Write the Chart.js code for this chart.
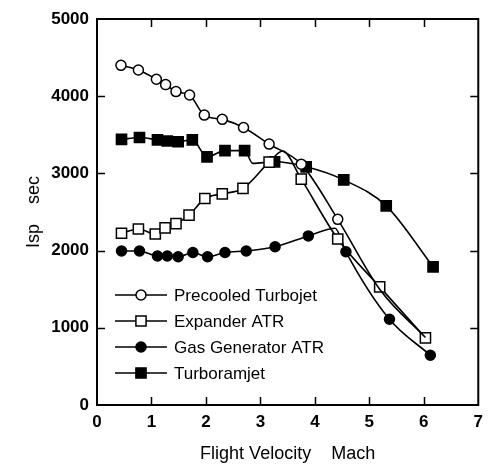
<!DOCTYPE html>
<html>
<head>
<meta charset="utf-8">
<script src="https://cdn.jsdelivr.net/npm/chart.js@4.4.1/dist/chart.umd.min.js"></script>
<style>
  html, body { margin: 0; padding: 0; background: #fff; }
</style>
</head>
<body>
<canvas id="Chart1" width="490" height="465"></canvas>
<script>
const FONT = '"Liberation Sans", Arial, Helvetica, sans-serif';

const seriesLabels = ['Precooled Turbojet', 'Expander ATR', 'Gas Generator ATR', 'Turboramjet'];

const precooledMach = [0.44, 0.76, 1.09, 1.26, 1.45, 1.70, 1.97, 2.30, 2.69, 3.16, 3.75, 4.42, 5.20, 6.03];
const precooledIsp = [4400, 4340, 4220, 4150, 4060, 4015, 3755, 3700, 3595, 3380, 3120, 2405, 1490, 875];

const expanderMach = [0.45, 0.76, 1.07, 1.25, 1.45, 1.69, 1.98, 2.30, 2.68, 3.16, 3.41, 3.75, 4.42, 5.19, 6.03];
const expanderIsp = [2225, 2280, 2215, 2295, 2350, 2460, 2675, 2735, 2805, 3145, 3290, 2925, 2150, 1530, 870];

const gasGenMach = [0.45, 0.78, 1.11, 1.29, 1.49, 1.76, 2.03, 2.35, 2.74, 3.27, 3.88, 4.37, 4.57, 5.37, 6.12];
const gasGenIsp = [1995, 1995, 1930, 1930, 1920, 1975, 1920, 1975, 1995, 2050, 2190, 2290, 1985, 1110, 645];

const turboMach = [0.45, 0.78, 1.11, 1.29, 1.49, 1.75, 2.02, 2.35, 2.71, 2.86, 3.26, 3.84, 4.53, 5.31, 6.17];
const turboIsp = [3440, 3465, 3435, 3420, 3410, 3435, 3215, 3295, 3295, 3130, 3150, 3085, 2915, 2580, 1790];

const xTicks = [0, 1, 2, 3, 4, 5, 6, 7];
const yTicks = [0, 1000, 2000, 3000, 4000, 5000];

const machs = [precooledMach, expanderMach, gasGenMach, turboMach];
const isps = [precooledIsp, expanderIsp, gasGenIsp, turboIsp];

// marker look per series; "bare" = points the original draws without a marker
const looks = [
    { style: 'circle', fill: '#fff', r: 5, bare: [12, 13] },
    { style: 'rect', fill: '#fff', r: 7.2, bare: [10] },
    { style: 'circle', fill: '#000', r: 5, bare: [11] },
    { style: 'rect', fill: '#000', r: 7.2, bare: [9] }
];

function mark(ctx, style, x, y, r, fill) {
    ctx.beginPath();
    if (style === 'rect') {
        const h = r * Math.SQRT1_2;
        ctx.rect(x - h, y - h, 2 * h, 2 * h);
    } else {
        ctx.arc(x, y, r, 0, Math.PI * 2);
    }
    ctx.fillStyle = fill;
    ctx.fill();
    ctx.stroke();
}

// box round the plot with inward ticks on all four sides
const frame = {
    id: 'frame',
    afterDraw(chart) {
        const { ctx, chartArea: a, scales: { x, y } } = chart;
        ctx.save();
        ctx.strokeStyle = '#000';
        ctx.lineWidth = 2;
        ctx.strokeRect(a.left, a.top, a.right - a.left, a.bottom - a.top);
        ctx.lineWidth = 1.5;
        ctx.beginPath();
        x.ticks.forEach(t => {
            const px = Math.round(x.getPixelForValue(t.value)) + 0.5;
            if (px <= a.left + 2 || px >= a.right - 2) return;
            ctx.moveTo(px, a.bottom); ctx.lineTo(px, a.bottom - 8);
            ctx.moveTo(px, a.top); ctx.lineTo(px, a.top + 8);
        });
        y.ticks.forEach(t => {
            const py = Math.round(y.getPixelForValue(t.value)) + 0.5;
            if (py <= a.top + 2 || py >= a.bottom - 2) return;
            ctx.moveTo(a.left, py); ctx.lineTo(a.left + 8, py);
            ctx.moveTo(a.right, py); ctx.lineTo(a.right - 8, py);
        });
        ctx.stroke();
        ctx.restore();
    }
};

// legend drawn inside the plot, lower left
const insideLegend = {
    id: 'insideLegend',
    afterDraw(chart) {
        const { ctx, chartArea: a } = chart;
        ctx.save();
        chart.data.datasets.forEach((ds, i) => {
            const y = a.top + 276 + i * 26;
            const x0 = a.left + 18, x1 = a.left + 70;
            ctx.strokeStyle = '#000';
            ctx.lineWidth = 1.5;
            ctx.beginPath();
            ctx.moveTo(x0, y); ctx.lineTo(x1, y);
            ctx.stroke();
            mark(ctx, looks[i].style, (x0 + x1) / 2, y, looks[i].r, looks[i].fill);
            ctx.fillStyle = '#000';
            ctx.font = '17px ' + FONT;
            ctx.textAlign = 'left';
            ctx.textBaseline = 'middle';
            ctx.fillText(ds.label, a.left + 77, y + 1);
        });
        ctx.restore();
    }
};

const ctx1 = document.getElementById('Chart1').getContext('2d');

if (ctx1)
    new Chart(ctx1, {
        type: 'line',
        data: {
            datasets: seriesLabels.map((label, i) => ({
                label: label,
                data: machs[i].map((m, k) => ({ x: m, y: isps[i][k] })),
                borderColor: '#000',
                borderWidth: 1.6,
                pointStyle: looks[i].style,
                pointBackgroundColor: looks[i].fill,
                pointBorderColor: '#000',
                pointBorderWidth: 1.5,
                pointRadius: c => looks[i].bare.includes(c.dataIndex) ? 0 : looks[i].r,
                cubicInterpolationMode: 'monotone',
                fill: false
            }))
        },
        options: {
            responsive: false,
            animation: false,
            layout: { padding: { left: 0, right: 7, top: 19, bottom: 0 } },
            plugins: { legend: { display: false }, tooltip: { enabled: false } },
            scales: {
                x: {
                    type: 'linear',
                    min: 0,
                    max: 7,
                    afterBuildTicks: s => { s.ticks = xTicks.map(v => ({ value: v })); },
                    afterFit: s => { s.height = 60; },
                    ticks: {
                        color: '#000', padding: 7, maxRotation: 0,
                        font: { family: FONT, size: 17, weight: 'bold' },
                        callback: v => String(v)
                    },
                    grid: { display: false, drawTicks: false },
                    border: { display: false },
                    title: {
                        display: true,
                        text: 'Flight Velocity    Mach',
                        color: '#000',
                        font: { family: FONT, size: 18 },
                        padding: { top: 0, bottom: 0 }
                    }
                },
                y: {
                    min: 0,
                    max: 5000,
                    afterBuildTicks: s => { s.ticks = yTicks.map(v => ({ value: v })); },
                    afterFit: s => { s.width = 97; },
                    ticks: {
                        color: '#000', padding: 8,
                        font: { family: FONT, size: 17, weight: 'bold' },
                        callback: v => String(v)
                    },
                    grid: { display: false, drawTicks: false },
                    border: { display: false },
                    title: {
                        display: true,
                        text: 'Isp    sec',
                        color: '#000',
                        font: { family: FONT, size: 18 },
                        padding: { top: 23, bottom: 0 }
                    }
                }
            }
        },
        plugins: [frame, insideLegend]
    });
</script>
</body>
</html>
